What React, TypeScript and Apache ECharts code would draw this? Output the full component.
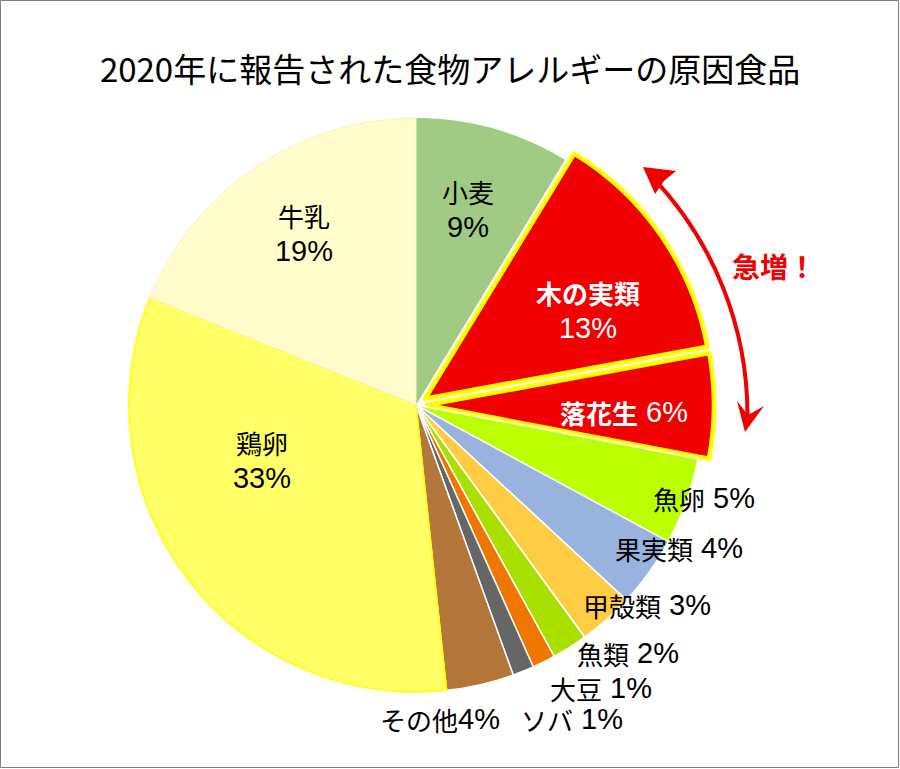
import React, { useEffect, useRef } from "react";
import * as echarts from "echarts";

const titleText = "2020年に報告された食物アレルギーの原因食品";
const categories = ["小麦", "木の実類", "落花生", "魚卵", "果実類", "甲殻類", "魚類", "大豆", "ソバ", "その他", "鶏卵", "牛乳"];
const values = [8.7, 13.4, 5.9, 4.9, 4.0, 3.1, 2.0, 1.3, 1.2, 3.8, 32.8, 18.9];
const exploded = ["木の実類", "落花生"];
const calloutText = "急増！";

const colors: Record<string, string> = {
  "小麦": "#A1CB84",
  "木の実類": "#F00000",
  "落花生": "#F00000",
  "魚卵": "#BBFF00",
  "果実類": "#98B3DE",
  "甲殻類": "#FFCC44",
  "魚類": "#A9E000",
  "大豆": "#EF7700",
  "ソバ": "#666666",
  "その他": "#B4773B",
  "鶏卵": "#FFFF66",
  "牛乳": "#FFFDCC",
};

// label placement (style only)
const labelLayout: Record<string, { x: number; y: number; sep: string; fill: string; bold?: boolean }> = {
  "小麦": { x: 468, y: 209, sep: "\n", fill: "#000" },
  "木の実類": { x: 588, y: 310, sep: "\n", fill: "#fff", bold: true },
  "落花生": { x: 624, y: 412, sep: " ", fill: "#fff", bold: true },
  "魚卵": { x: 704, y: 498, sep: " ", fill: "#000" },
  "果実類": { x: 679, y: 548, sep: " ", fill: "#000" },
  "甲殻類": { x: 647, y: 605, sep: " ", fill: "#000" },
  "魚類": { x: 628, y: 653, sep: " ", fill: "#000" },
  "大豆": { x: 601, y: 688, sep: " ", fill: "#000" },
  "ソバ": { x: 572, y: 719, sep: " ", fill: "#000" },
  "その他": { x: 440, y: 719, sep: "", fill: "#000" },
  "鶏卵": { x: 262, y: 460, sep: "\n", fill: "#000" },
  "牛乳": { x: 304, y: 233, sep: "\n", fill: "#000" },
};

const FONT = "'Noto Sans CJK JP', 'Noto Sans', sans-serif";
const NUMFONT = "'Liberation Sans', Arial, sans-serif";

export default function App() {
  const ref = useRef<HTMLDivElement>(null);
  useEffect(() => {
    if (!ref.current) return;
    const chart = echarts.init(ref.current, undefined, { renderer: "svg" });
    const total = values.reduce((a, b) => a + b, 0);

    const data = categories.map((name, i) => {
      const isEx = exploded.includes(name);
      let itemStyle: any = { color: colors[name], borderColor: "#FFFFFF", borderWidth: 1.5 };
      if (isEx) itemStyle = { color: colors[name], borderColor: "#FFFF00", borderWidth: 4.5 };
      if (name === "小麦") itemStyle = { color: colors[name], borderWidth: 0 };
      if (name === "鶏卵") itemStyle = { color: colors[name], borderColor: "#FFFF00", borderWidth: 1.5 };
      if (name === "牛乳") itemStyle = { color: colors[name], borderColor: "#FBEFC6", borderWidth: 1 };
      return {
        name,
        value: values[i],
        selected: isEx,
        itemStyle,
        select: { itemStyle },
      };
    });

    const labelTexts = categories.map((name, i) => {
      const L = labelLayout[name];
      const pct = Math.round((values[i] / total) * 100);
      const weight = L.bold ? "bold" : "normal";
      const twoLine = L.sep === "\n";
      const text = twoLine
        ? `{n|${name}}\n{p|${pct}%}`
        : `{n|${name}}{p|${L.sep}${pct}%}`;
      return {
        type: "text",
        x: L.x,
        y: L.y,
        z: 100,
        style: {
          text,
          fill: L.fill,
          align: "center",
          verticalAlign: "middle",
          rich: {
            n: { fontSize: 26, fontFamily: FONT, fontWeight: weight, fill: L.fill, color: L.fill, lineHeight: twoLine ? 35 : 28 },
            p: { fontSize: 29, fontFamily: NUMFONT, fontWeight: "normal", fill: L.fill, color: L.fill, lineHeight: twoLine ? 35 : 28 },
          },
        },
      };
    });

    const arrowColor = "#F00000";
    const option: any = {
      animation: false,
      backgroundColor: "#FFFFFF",
      title: {
        text: titleText,
        left: "center",
        top: 46,
        textStyle: { fontFamily: FONT, fontSize: 33, fontWeight: "normal", color: "#000" },
      },
      series: [
        {
          type: "pie",
          center: [416, 405],
          radius: 287,
          startAngle: 90,
          clockwise: true,
          selectedMode: "multiple",
          selectedOffset: 11,
          label: { show: false },
          labelLine: { show: false },
          emphasis: { disabled: true },
          data,
        },
      ],
      graphic: [
        {
          type: "rect",
          shape: { x: 0.5, y: 0.5, width: 898, height: 767 },
          style: { fill: "none", stroke: "#7F7F7F", lineWidth: 1 },
          z: 200,
        },
        ...labelTexts,
        {
          type: "arc",
          shape: { cx: 401, cy: 415.5, r: 346.5, startAngle: -0.765, endAngle: 0.01, clockwise: true },
          style: { stroke: arrowColor, lineWidth: 4, fill: "none" },
          z: 100,
        },
        {
          type: "polygon",
          shape: { points: [[643, 167], [676, 171], [664, 181], [655, 194]] },
          style: { fill: arrowColor },
          z: 100,
        },
        {
          type: "polygon",
          shape: { points: [[745, 432], [737, 401], [748, 415], [764, 406]] },
          style: { fill: arrowColor },
          z: 100,
        },
        {
          type: "text",
          x: 774,
          y: 266,
          z: 100,
          style: {
            text: calloutText,
            fill: arrowColor,
            fontSize: 28,
            fontFamily: FONT,
            fontWeight: "bold",
            align: "center",
            verticalAlign: "middle",
          },
        },
      ],
    };
    chart.setOption(option);
    return () => chart.dispose();
  }, []);
  return (
    <div
      ref={ref}
      style={{ position: "fixed", left: 0, top: 0, width: 900, height: 769, background: "#fff" }}
    />
  );
}
